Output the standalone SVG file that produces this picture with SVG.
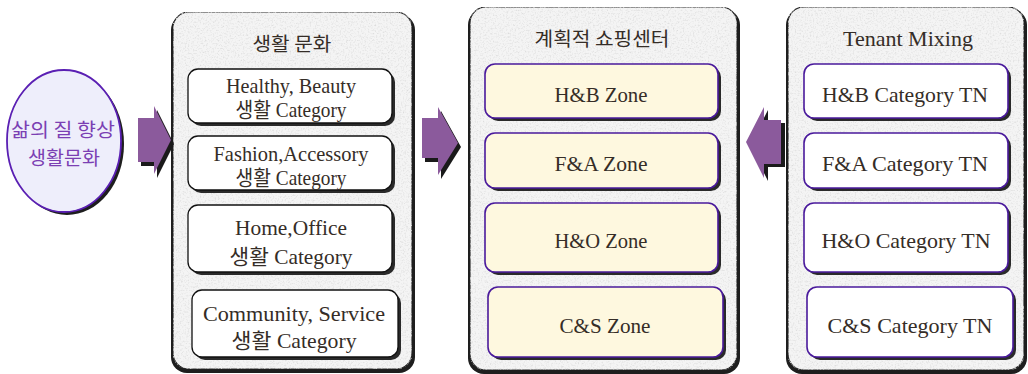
<svg xmlns="http://www.w3.org/2000/svg" width="1028" height="374" viewBox="0 0 1028 374">
<defs>
<filter id="tex" x="0" y="0" width="100%" height="100%">
<feTurbulence type="fractalNoise" baseFrequency="0.6" numOctaves="3" seed="5" result="n"/>
<feColorMatrix in="n" type="matrix" values="0 0 0 0 0.72  0 0 0 0 0.72  0 0 0 0 0.72  2.4 0 0 0 -1.15" result="spots"/>
<feComposite in="spots" in2="SourceAlpha" operator="in" result="clip"/>
<feMerge><feMergeNode in="SourceGraphic"/><feMergeNode in="clip"/></feMerge>
</filter>
<style>
.psh{fill:#1e1e1e}
.panel{fill:#f4f4f4;stroke:#2a2a2a;stroke-width:1.2}
.bsh{fill:#2a2a2a}
.bw{fill:#ffffff;stroke:#111;stroke-width:1.3}
.by{fill:#fef8df;stroke:#4a1a9c;stroke-width:1.6}
.bp{fill:#ffffff;stroke:#4a1a9c;stroke-width:1.6}
.t{font-family:"Liberation Serif","Noto Sans CJK KR",serif;font-size:21px;fill:#352d27;text-anchor:middle}
.k{font-family:"Noto Sans CJK KR","Liberation Serif",sans-serif;font-size:19px;fill:#352d27;text-anchor:middle}
.ek{font-family:"Noto Sans CJK KR",sans-serif;font-size:19px;fill:#7b3fb3;text-anchor:middle}
.arr{fill:#8b5a9c}
.ash{fill:#1a1a1a}
</style>
</defs>
<rect width="1028" height="374" fill="#ffffff"/>

<g id="panel-life">
<rect class="psh" x="171" y="14" width="244" height="359" rx="16"/>
<rect class="panel" x="173" y="12" width="239" height="357" rx="16" filter="url(#tex)"/>
<text class="k" x="292" y="51" textLength="79" lengthAdjust="spacingAndGlyphs">생활 문화</text>
</g>
<g id="box-hb-life">
<rect class="bsh" x="191" y="72" width="204" height="54" rx="10"/>
<rect class="bw" x="188" y="69" width="204" height="54" rx="10"/>
<text class="t" x="291" y="93" textLength="130" lengthAdjust="spacingAndGlyphs">Healthy, Beauty</text>
<text class="t" x="291" y="117" textLength="111" lengthAdjust="spacingAndGlyphs">생활 Category</text>
</g>
<g id="box-fa-life">
<rect class="bsh" x="191" y="139" width="204" height="54" rx="10"/>
<rect class="bw" x="188" y="136" width="204" height="54" rx="10"/>
<text class="t" x="291" y="161" textLength="155" lengthAdjust="spacingAndGlyphs">Fashion,Accessory</text>
<text class="t" x="291" y="185" textLength="111" lengthAdjust="spacingAndGlyphs">생활 Category</text>
</g>
<g id="box-ho-life">
<rect class="bsh" x="191" y="208" width="204" height="67" rx="10"/>
<rect class="bw" x="188" y="205" width="204" height="67" rx="10"/>
<text class="t" x="291" y="235" textLength="112" lengthAdjust="spacingAndGlyphs">Home,Office</text>
<text class="t" x="291" y="264" textLength="123" lengthAdjust="spacingAndGlyphs">생활 Category</text>
</g>
<g id="box-cs-life">
<rect class="bsh" x="195" y="293" width="206" height="67" rx="10"/>
<rect class="bw" x="192" y="290" width="206" height="67" rx="10"/>
<text class="t" x="294" y="321" textLength="182" lengthAdjust="spacingAndGlyphs">Community, Service</text>
<text class="t" x="294" y="348" textLength="125" lengthAdjust="spacingAndGlyphs">생활 Category</text>
</g>

<g id="panel-center">
<rect class="psh" x="468" y="9" width="272" height="365" rx="16"/>
<rect class="panel" x="470" y="7" width="267" height="363" rx="16" filter="url(#tex)"/>
<text class="k" x="602" y="46" textLength="135" lengthAdjust="spacingAndGlyphs">계획적 쇼핑센터</text>
</g>
<g id="zone-hb">
<rect class="bsh" x="488" y="67" width="233" height="54" rx="10"/>
<rect class="by" x="485" y="64" width="233" height="54" rx="10"/>
<text class="t" x="601" y="102" textLength="93" lengthAdjust="spacingAndGlyphs">H&amp;B Zone</text>
</g>
<g id="zone-fa">
<rect class="bsh" x="488" y="136" width="233" height="55" rx="10"/>
<rect class="by" x="485" y="133" width="233" height="55" rx="10"/>
<text class="t" x="601" y="171" textLength="93" lengthAdjust="spacingAndGlyphs">F&amp;A Zone</text>
</g>
<g id="zone-ho">
<rect class="bsh" x="488" y="206" width="233" height="69" rx="10"/>
<rect class="by" x="485" y="203" width="233" height="69" rx="10"/>
<text class="t" x="601" y="248" textLength="93" lengthAdjust="spacingAndGlyphs">H&amp;O Zone</text>
</g>
<g id="zone-cs">
<rect class="bsh" x="491" y="290" width="235" height="70" rx="10"/>
<rect class="by" x="488" y="287" width="235" height="70" rx="10"/>
<text class="t" x="605" y="333" textLength="91" lengthAdjust="spacingAndGlyphs">C&amp;S Zone</text>
</g>

<g id="panel-tenant">
<rect class="psh" x="786" y="9" width="241" height="365" rx="16"/>
<rect class="panel" x="788" y="7" width="236" height="363" rx="16" filter="url(#tex)"/>
<text class="t" x="908" y="46" textLength="130" lengthAdjust="spacingAndGlyphs">Tenant Mixing</text>
</g>
<g id="tn-hb">
<rect class="bsh" x="807" y="67" width="204" height="54" rx="10"/>
<rect class="bp" x="804" y="64" width="204" height="54" rx="10"/>
<text class="t" x="905" y="102" textLength="166" lengthAdjust="spacingAndGlyphs">H&amp;B Category TN</text>
</g>
<g id="tn-fa">
<rect class="bsh" x="807" y="136" width="204" height="55" rx="10"/>
<rect class="bp" x="804" y="133" width="204" height="55" rx="10"/>
<text class="t" x="905" y="171" textLength="166" lengthAdjust="spacingAndGlyphs">F&amp;A Category TN</text>
</g>
<g id="tn-ho">
<rect class="bsh" x="807" y="206" width="204" height="69" rx="10"/>
<rect class="bp" x="804" y="203" width="204" height="69" rx="10"/>
<text class="t" x="906" y="248" textLength="169" lengthAdjust="spacingAndGlyphs">H&amp;O Category TN</text>
</g>
<g id="tn-cs">
<rect class="bsh" x="810" y="290" width="206" height="70" rx="10"/>
<rect class="bp" x="807" y="287" width="206" height="70" rx="10"/>
<text class="t" x="910" y="333" textLength="165" lengthAdjust="spacingAndGlyphs">C&amp;S Category TN</text>
</g>

<g id="life-quality">
<ellipse cx="67" cy="144" rx="57" ry="71" fill="#1e1e1e"/>
<ellipse cx="64" cy="141" rx="57" ry="71" fill="#eeeefb" stroke="#5a1fb3" stroke-width="1.8"/>
<text class="ek" x="63" y="137" textLength="104" lengthAdjust="spacingAndGlyphs">삶의 질 향상</text>
<text class="ek" x="64" y="165" textLength="72" lengthAdjust="spacingAndGlyphs">생활문화</text>
</g>

<g id="connectors">
<polygon class="ash" transform="translate(3,4)" points="138,118 154,118 154,106 171,140 154,174 154,162 138,162"/>
<polygon class="arr" points="138,118 154,118 154,106 171,140 154,174 154,162 138,162"/>
<polygon class="ash" transform="translate(3,4)" points="422,118 438,118 438,107 458,143 438,175 438,158 422,158"/>
<polygon class="arr" points="422,118 438,118 438,107 458,143 438,175 438,158 422,158"/>
<polygon class="ash" transform="translate(4,3)" points="746,142 764,107 764,120 781,120 781,164 764,164 764,178"/>
<polygon class="arr" points="746,142 764,107 764,120 781,120 781,164 764,164 764,178"/>
</g>
</svg>
